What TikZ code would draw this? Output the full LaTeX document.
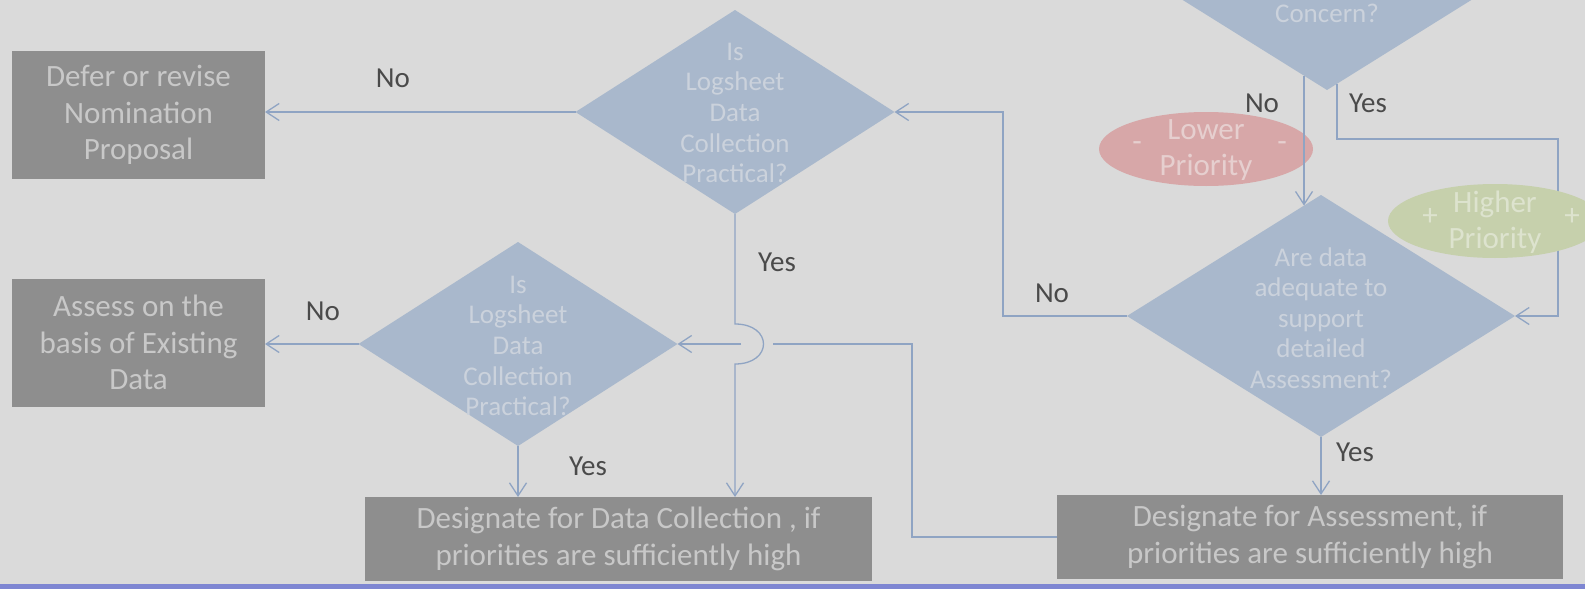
\documentclass[tikz,border=0pt]{standalone}
\usepackage{fontspec}
\setmainfont{Carlito}
\usetikzlibrary{shapes.geometric,arrows.meta,calc}
\definecolor{bgc}{HTML}{DADADA}
\definecolor{boxc}{HTML}{8E8E8E}
\definecolor{boxt}{HTML}{C8C8C8}
\definecolor{diac}{HTML}{A9B8CC}
\definecolor{diat}{HTML}{CBD2DC}
\definecolor{linec}{HTML}{8FA4C3}
\definecolor{labc}{HTML}{4A4A4A}
\definecolor{lowc}{HTML}{D7A7A8}
\definecolor{lowt}{HTML}{E6CFCF}
\definecolor{highc}{HTML}{C6D0AC}
\definecolor{hight}{HTML}{DDE3CE}
\definecolor{barc}{HTML}{7E86D2}
\begin{document}
\begin{tikzpicture}[x=1pt,y=-1pt,
  gbox/.style={draw=none, fill=boxc, text=boxt, inner sep=0pt, outer sep=0pt, align=center, font=\fontsize{31}{36.5}\selectfont},
  dia/.style={diamond, fill=diac, inner sep=0pt, outer sep=0pt},
  dtext/.style={text=diat, align=center, font=\fontsize{27}{30.6}\selectfont},
  lab/.style={text=labc, font=\fontsize{29}{34}\selectfont},
  conn/.style={draw=linec, line width=1.3pt},
  arr/.style={conn, -{Straight Barb[length=13pt,width=17pt,line width=1.3pt]}},
  ell/.style={ellipse, inner sep=0pt, outer sep=0pt, minimum width=214pt, minimum height=74pt},
  etext/.style={align=center, font=\fontsize{31}{36}\selectfont},
]
\useasboundingbox (0,0) rectangle (1585,589);
\clip (0,0) rectangle (1585,589);
\fill[bgc] (0,0) rectangle (1585,589);

% priority ellipse under the "No" line
\node[ell, fill=lowc] (lowp) at (1206,149) {};
\node[etext, text=lowt] (lowpt) at (1206,150) {Lower\\Priority};
\node[etext, text=lowt] (lowm1) at (1137,147) {-};
\node[etext, text=lowt] (lowm2) at (1282,147) {-};

% diamonds
\node[dia, minimum width=388pt, minimum height=242pt] (d0) at (1327,-31) {};
\node[dtext] (d0t) at (1327,13) {Concern?};
\node[dia, minimum width=319pt, minimum height=204pt] (d1) at (735,112) {};
\node[dtext] (d1t) at (735,113) {Is\\Logsheet\\Data\\Collection\\Practical?};
\node[dia, minimum width=319pt, minimum height=204pt] (d2) at (518,344) {};
\node[dtext] (d2t) at (518,346) {Is\\Logsheet\\Data\\Collection\\Practical?};
\node[dia, minimum width=388pt, minimum height=242pt] (d3) at (1321,316) {};
\node[dtext] (d3t) at (1321,318) {Are data\\adequate to\\support\\detailed\\Assessment?};

% boxes
\node[gbox, minimum width=253pt, minimum height=128pt] (b1) at (138.5,115) {Defer or revise\\Nomination\\Proposal};
\node[gbox, minimum width=253pt, minimum height=128pt] (b2) at (138.5,342.5) {Assess on the\\basis of Existing\\Data};
\node[gbox, minimum width=507pt, minimum height=84pt] (b3) at (618.5,539) {Designate for Data Collection , if\\priorities are sufficiently high};
\node[gbox, minimum width=506pt, minimum height=84pt] (b4) at (1310,537) {Designate for Assessment, if\\priorities are sufficiently high};

% helper coordinates
\coordinate (n0) at (1304,76);
\coordinate (n1) at (1304,205.6);
\coordinate (y0) at (1337,84);
\coordinate (y2) at (1558,139);
\coordinate (jx) at (1003,316);
\coordinate (kx) at (912,344);
\coordinate (g1) at (773,344);
\coordinate (g2) at (741,344);
\coordinate (j1) at (735,324);
\coordinate (j2) at (735,364);

% connectors
\draw[arr] (d1.west) -- (d1.west -| b1.east);
\draw[arr] (d2.west) -- (d2.west -| b2.east);
\draw[arr] (d1.south) -- (j1) .. controls (773,324) and (773,364) .. (j2) -- (j2 |- b3.north);
\draw[arr] (b4.west) -| (kx) -- (g1) (g2) -- (d2.east);
\draw[arr] (d2.south) -- (d2.south |- b3.north);
\draw[arr] (d3.west) -- (jx) |- (d1.east);
\draw[arr] (n0) -- (n1);
\draw[arr] (y0) |- (y2) |- (d3.east);
\draw[arr] (d3.south) -- (d3.south |- b4.north);

% higher priority ellipse over the "Yes" line
\node[ell, fill=highc] (highp) at (1495,221) {};
\node[etext, text=hight] (highpt) at (1495,222) {Higher\\Priority};
\node[etext, text=hight] (highm1) at (1430,217) {+};
\node[etext, text=hight] (highm2) at (1572,217) {+};

% labels
\node[lab] (l1) at (393,78) {No};
\node[lab] (l2) at (777,262) {Yes};
\node[lab] (l3) at (323,311) {No};
\node[lab] (l4) at (588,466) {Yes};
\node[lab] (l5) at (1262,103) {No};
\node[lab] (l6) at (1368,103) {Yes};
\node[lab] (l7) at (1052,293) {No};
\node[lab] (l8) at (1355,452) {Yes};

% bottom bar
\fill[barc] (0,584) rectangle (1585,589);
\end{tikzpicture}
\end{document}
